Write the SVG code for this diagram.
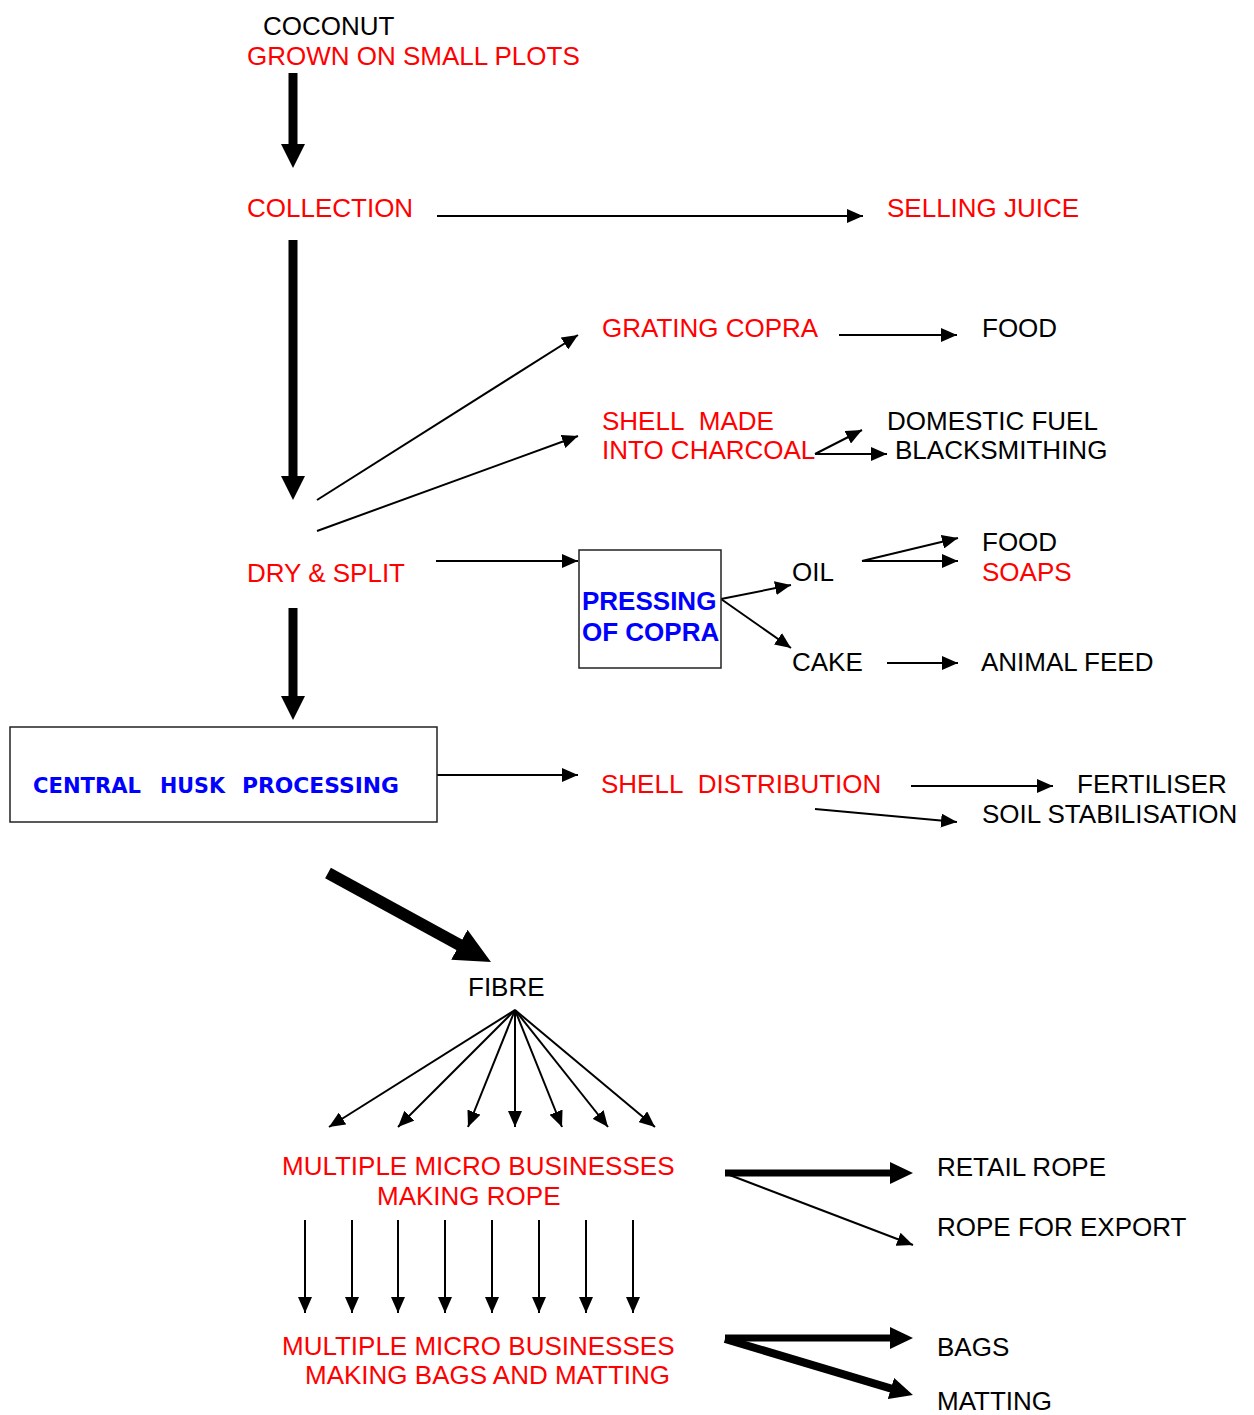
<svg xmlns="http://www.w3.org/2000/svg" width="1254" height="1415" viewBox="0 0 1254 1415">
<style>
text{font-family:"Liberation Sans",Arial,sans-serif;font-size:26px;fill:#000}
.r{fill:#ff0000}
.bl{fill:#0000ff;font-weight:bold}
.ch{font-family:"DejaVu Sans",sans-serif;font-weight:bold;font-size:22px;fill:#0000ff}
.box{fill:#fff;stroke:#222;stroke-width:1.5}
.t{stroke:#000;stroke-width:2;fill:none;marker-end:url(#a)}
.k{stroke:#000;stroke-width:9;fill:none;marker-end:url(#b)}
.m{stroke:#000;stroke-width:7;fill:none;marker-end:url(#c)}
</style>
<defs>
<marker id="a" markerUnits="userSpaceOnUse" markerWidth="16" markerHeight="14" refX="16" refY="7" orient="auto"><path d="M0,0 L16,7 L0,14 z" fill="#000"/></marker>
<marker id="b" markerUnits="userSpaceOnUse" markerWidth="24" markerHeight="24" refX="12" refY="12" orient="auto"><path d="M0,0 L24,12 L0,24 z" fill="#000"/></marker>
<marker id="c" markerUnits="userSpaceOnUse" markerWidth="23" markerHeight="22" refX="10" refY="11" orient="auto"><path d="M0,0 L23,11 L0,22 z" fill="#000"/></marker>
<marker id="d" markerUnits="userSpaceOnUse" markerWidth="36" markerHeight="34" refX="16" refY="17" orient="auto"><path d="M0,0 L36,17 L0,34 z" fill="#000"/></marker>
</defs>
<rect width="1254" height="1415" fill="#fff"/>

<g id="connectors">
<line class="k" x1="293" y1="73" x2="293" y2="156"/>
<line class="t" x1="437" y1="216" x2="863" y2="216"/>
<line class="k" x1="293" y1="240" x2="293" y2="488"/>
<line class="t" x1="317" y1="500" x2="578" y2="335"/>
<line class="t" x1="317" y1="531" x2="578" y2="436"/>
<line class="t" x1="839" y1="335" x2="957" y2="335"/>
<line class="t" x1="815" y1="454" x2="862" y2="430"/>
<line class="t" x1="815" y1="454" x2="887" y2="454"/>
<line class="t" x1="436" y1="561" x2="578" y2="561"/>
<line class="t" x1="721" y1="599" x2="791" y2="585"/>
<line class="t" x1="721" y1="599" x2="791" y2="648"/>
<line class="t" x1="862" y1="561" x2="958" y2="538"/>
<line class="t" x1="862" y1="561" x2="958" y2="561"/>
<line class="t" x1="887" y1="663" x2="958" y2="663"/>
<line class="k" x1="293" y1="608" x2="293" y2="708"/>
<line class="t" x1="437" y1="775" x2="578" y2="775"/>
<line class="t" x1="911" y1="786" x2="1053" y2="786"/>
<line class="t" x1="815" y1="809" x2="957" y2="822"/>
<line x1="328" y1="873" x2="473.4" y2="952.4" stroke="#000" stroke-width="12" marker-end="url(#d)"/>
<line class="t" x1="515" y1="1010" x2="329" y2="1127"/>
<line class="t" x1="515" y1="1010" x2="398" y2="1127"/>
<line class="t" x1="515" y1="1010" x2="468" y2="1127"/>
<line class="t" x1="515" y1="1010" x2="515" y2="1127"/>
<line class="t" x1="515" y1="1010" x2="562" y2="1127"/>
<line class="t" x1="515" y1="1010" x2="608" y2="1127"/>
<line class="t" x1="515" y1="1010" x2="655" y2="1127"/>
<line class="t" x1="305" y1="1220" x2="305" y2="1313"/>
<line class="t" x1="352" y1="1220" x2="352" y2="1313"/>
<line class="t" x1="398" y1="1220" x2="398" y2="1313"/>
<line class="t" x1="445" y1="1220" x2="445" y2="1313"/>
<line class="t" x1="492" y1="1220" x2="492" y2="1313"/>
<line class="t" x1="539" y1="1220" x2="539" y2="1313"/>
<line class="t" x1="586" y1="1220" x2="586" y2="1313"/>
<line class="t" x1="633" y1="1220" x2="633" y2="1313"/>
<line class="m" x1="725" y1="1173" x2="900" y2="1173"/>
<line class="t" x1="727" y1="1174" x2="913" y2="1245"/>
<line class="m" x1="725" y1="1338" x2="900" y2="1338"/>
<line class="m" x1="725" y1="1339" x2="900.5" y2="1391.3" style="stroke-width:8"/>
</g>

<g id="coconut"><text x="263" y="35">COCONUT</text><text class="r" x="247" y="65">GROWN ON SMALL PLOTS</text></g>
<g id="collection"><text class="r" x="247" y="217">COLLECTION</text></g>
<g id="selling-juice"><text class="r" x="887" y="217">SELLING JUICE</text></g>
<g id="grating-copra"><text class="r" x="602" y="337">GRATING COPRA</text></g>
<g id="food1"><text x="982" y="337">FOOD</text></g>
<g id="charcoal"><text class="r" x="602" y="430">SHELL&#160; MADE</text><text class="r" x="602" y="459">INTO CHARCOAL</text></g>
<g id="domestic-fuel"><text x="887" y="430">DOMESTIC FUEL</text></g>
<g id="blacksmithing"><text x="895" y="459">BLACKSMITHING</text></g>
<g id="dry-split"><text class="r" x="247" y="582">DRY &amp; SPLIT</text></g>
<g id="pressing"><rect class="box" x="579" y="550" width="142" height="118"/><text class="bl" x="582" y="610">PRESSING</text><text class="bl" x="582" y="641">OF COPRA</text></g>
<g id="oil"><text x="792" y="581">OIL</text></g>
<g id="food2"><text x="982" y="551">FOOD</text></g>
<g id="soaps"><text class="r" x="982" y="581">SOAPS</text></g>
<g id="cake"><text x="792" y="671">CAKE</text></g>
<g id="animal-feed"><text x="981" y="671">ANIMAL FEED</text></g>
<g id="central-husk"><rect class="box" x="10" y="727" width="427" height="95"/>
<text class="ch" x="33" y="793" textLength="108" lengthAdjust="spacingAndGlyphs">CENTRAL</text>
<text class="ch" x="160" y="793" textLength="65" lengthAdjust="spacingAndGlyphs">HUSK</text>
<text class="ch" x="242" y="793" textLength="157" lengthAdjust="spacingAndGlyphs">PROCESSING</text></g>
<g id="shell-distribution"><text class="r" x="601" y="793">SHELL&#160; DISTRIBUTION</text></g>
<g id="fertiliser"><text x="1077" y="793">FERTILISER</text></g>
<g id="soil"><text x="982" y="823">SOIL STABILISATION</text></g>
<g id="fibre"><text x="468" y="996">FIBRE</text></g>
<g id="rope-makers"><text class="r" x="282" y="1175">MULTIPLE MICRO BUSINESSES</text><text class="r" x="377" y="1205">MAKING ROPE</text></g>
<g id="retail-rope"><text x="937" y="1176">RETAIL ROPE</text></g>
<g id="rope-export"><text x="937" y="1236">ROPE FOR EXPORT</text></g>
<g id="bag-makers"><text class="r" x="282" y="1355">MULTIPLE MICRO BUSINESSES</text><text class="r" x="305" y="1384">MAKING BAGS AND MATTING</text></g>
<g id="bags"><text x="937" y="1356">BAGS</text></g>
<g id="matting"><text x="937" y="1410">MATTING</text></g>
</svg>
